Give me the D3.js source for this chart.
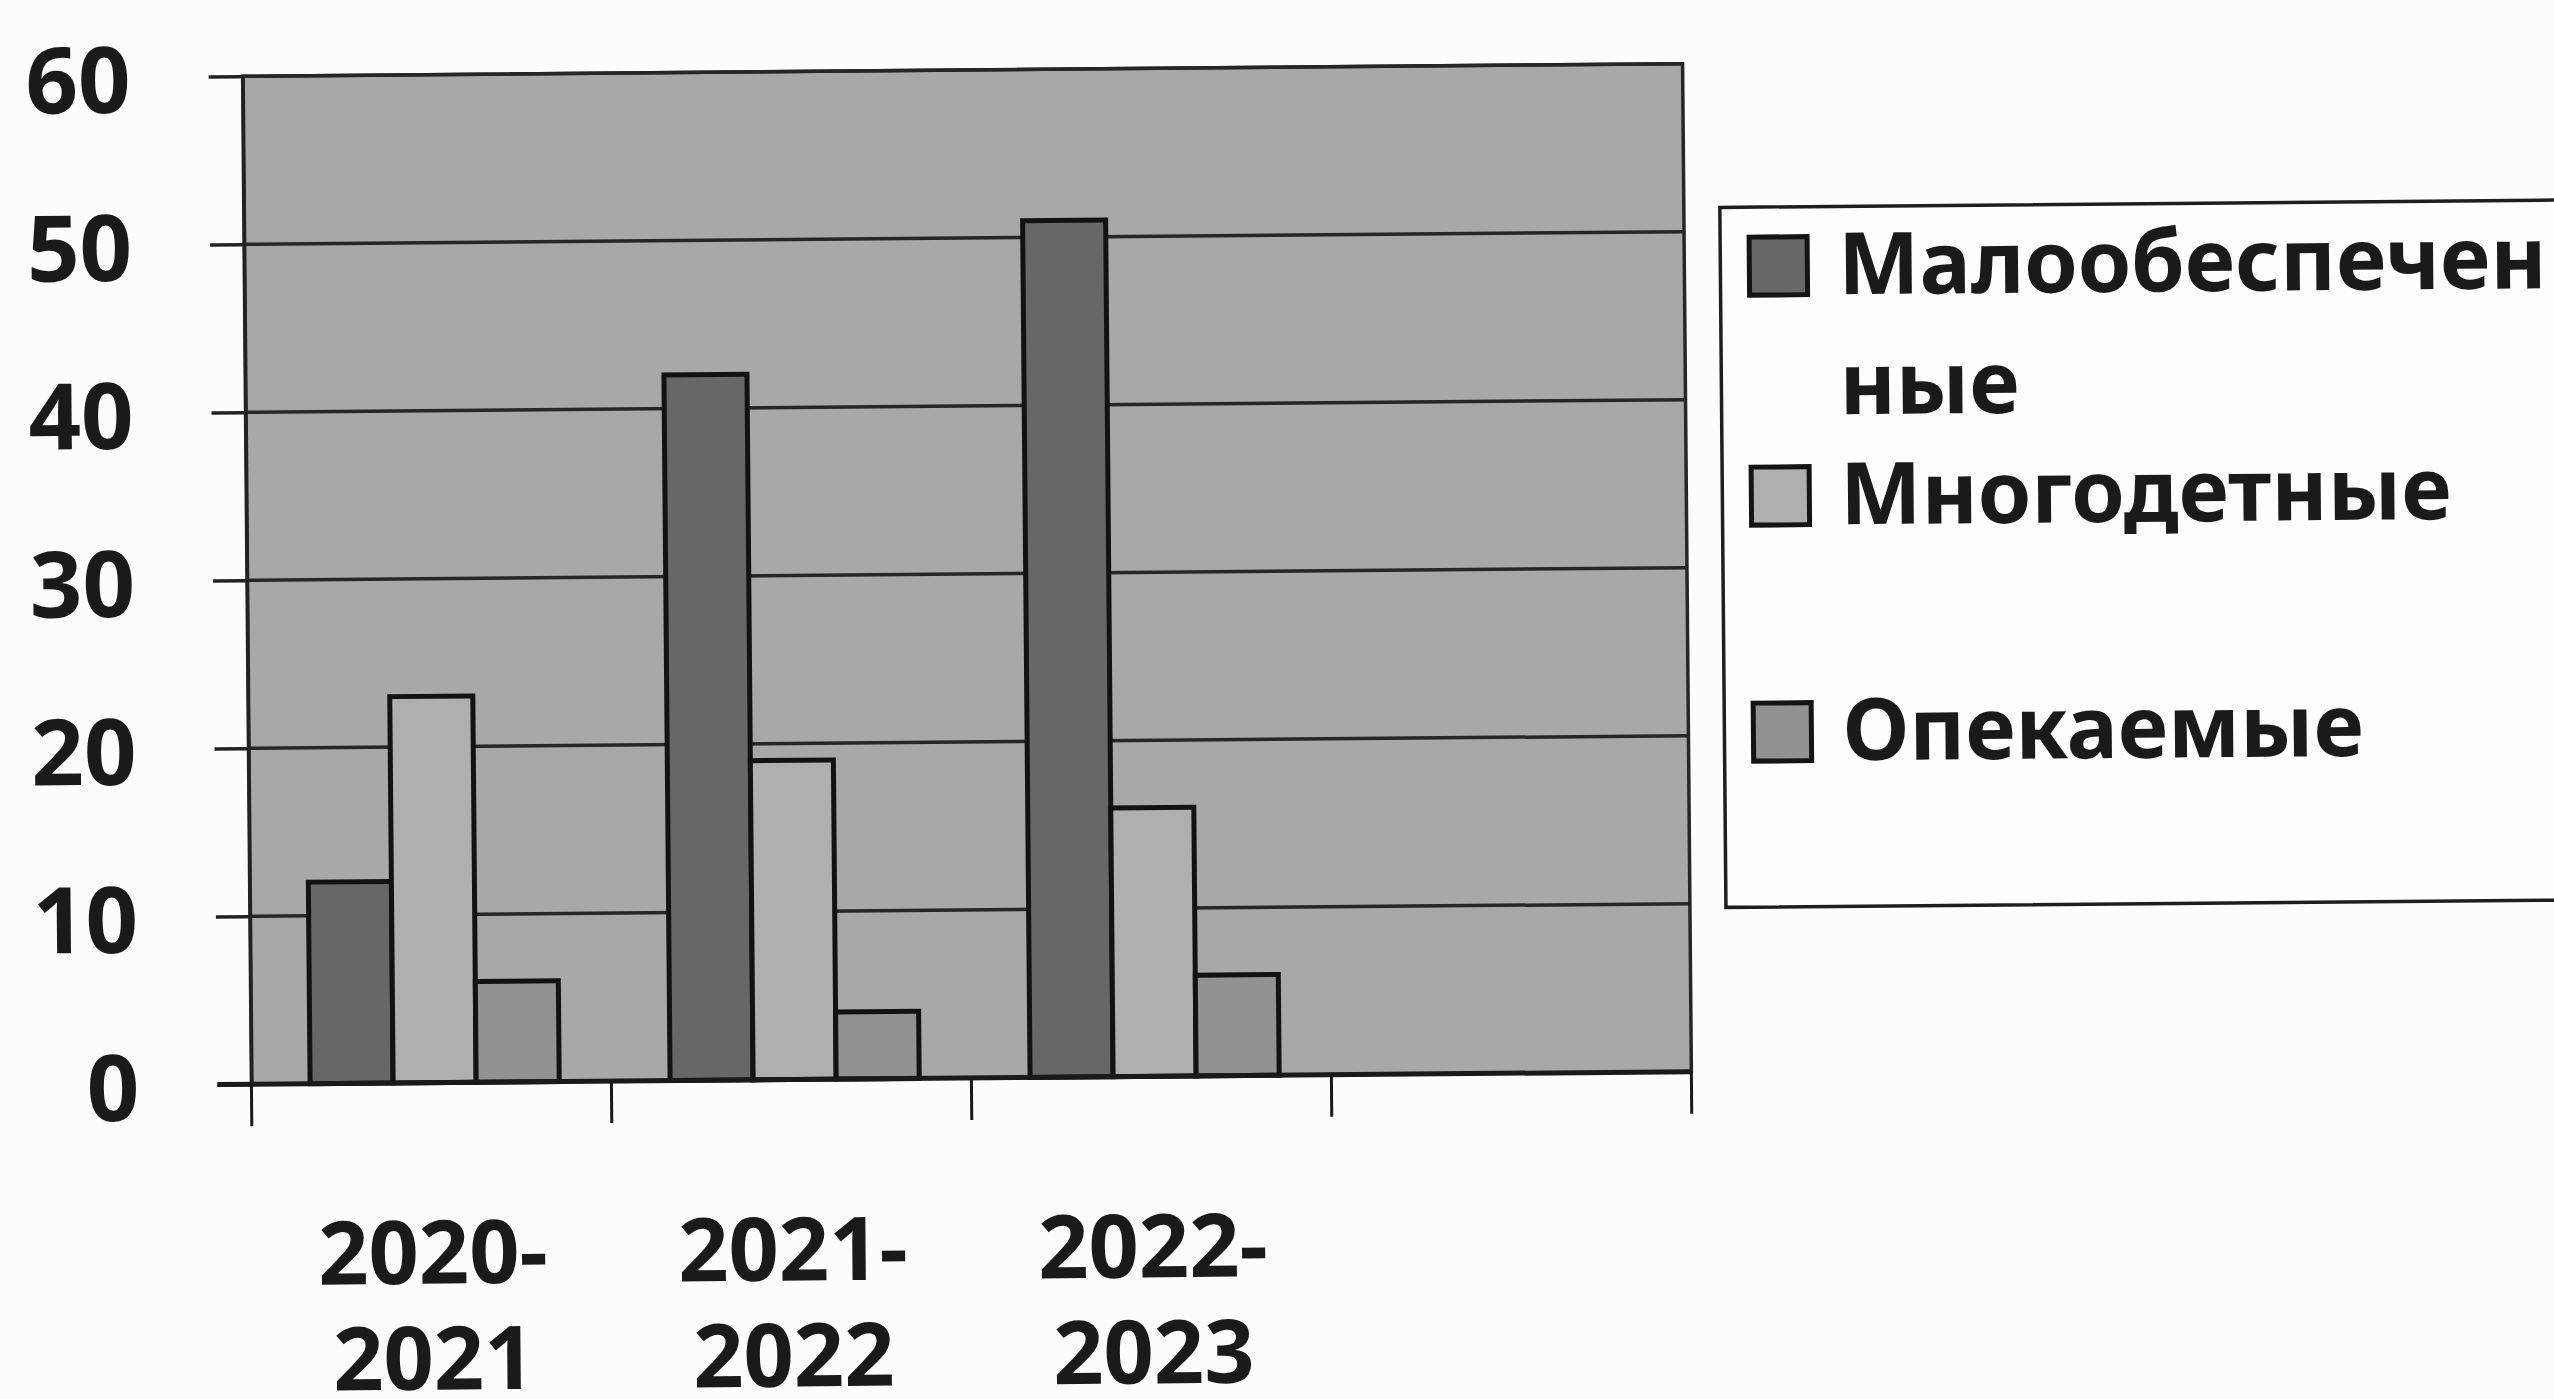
<!DOCTYPE html>
<html><head><meta charset="utf-8">
<script src="https://cdn.jsdelivr.net/npm/d3@7"></script>
<style>html,body{margin:0;padding:0;background:#fcfcfc;} svg{display:block}</style>
</head><body>
<svg id="c" width="2554" height="1399"></svg>
<script>
// ---- data ----
const categories = ["2020-2021", "2021-2022", "2022-2023", ""];
const categoryLines = [["2020-", "2021"], ["2021-", "2022"], ["2022-", "2023"], []];
const seriesNames = ["Малообеспеченные", "Многодетные", "Опекаемые"];
const legendLines = [["Малообеспечен", "ные"], ["Многодетные"], ["Опекаемые"]];
const malo  = [12, 42, 51, null];
const mnogo = [23, 19, 16, null];
const opek  = [6, 4, 6, null];
const yTicks = [0, 10, 20, 30, 40, 50, 60];

// ---- style ----
const colors = ["#676767", "#afafaf", "#929292"];
const FONT = "'Noto Sans', 'DejaVu Sans', sans-serif";
const L = 247, R = 1687, T = 70, B = 1078;

const svg = d3.select("#c");
const g = svg.append("g").attr("transform", "rotate(-0.5 965 574)");

const x = d3.scaleBand().domain(categories.map((d, i) => i)).range([L, R]).padding(0);
const inner = d3.scaleBand().domain(d3.range(seriesNames.length))
  .range([x.bandwidth() * 0.163, x.bandwidth() * 0.855]).padding(0);
const y = d3.scaleLinear().domain([0, 60]).range([B, T]);

// plot background
g.append("rect").attr("x", L).attr("y", T).attr("width", R - L).attr("height", B - T)
  .attr("fill", "#a8a8a8");

// gridlines
g.append("g").selectAll("line").data(yTicks.filter(v => v > 0)).join("line")
  .attr("x1", L).attr("x2", R).attr("y1", d => y(d)).attr("y2", d => y(d))
  .attr("stroke", "#262626").attr("stroke-width", 3.5);

// bars
const series = [malo, mnogo, opek];
series.forEach((vals, si) => {
  g.append("g").selectAll("rect")
    .data(vals.map((v, i) => ({ v, i })).filter(d => d.v != null))
    .join("rect")
    .attr("x", d => x(d.i) + inner(si))
    .attr("y", d => y(d.v))
    .attr("width", inner.bandwidth())
    .attr("height", d => y(0) - y(d.v))
    .attr("fill", colors[si])
    .attr("stroke", "#121212").attr("stroke-width", 5);
});

// plot border
g.append("rect").attr("x", L).attr("y", T).attr("width", R - L).attr("height", B - T)
  .attr("fill", "none").attr("stroke", "#262626").attr("stroke-width", 3.5);

// y axis
const yAxis = g.append("g").attr("transform", `translate(${L},0)`)
  .call(d3.axisLeft(y).tickValues(yTicks).tickSize(34).tickSizeOuter(0).tickPadding(78));
yAxis.selectAll("line").attr("stroke", "#222").attr("stroke-width", 3.5);
yAxis.select(".domain").attr("stroke", "#222").attr("stroke-width", 3.5);
yAxis.selectAll("text").attr("font-family", FONT).attr("font-weight", 700)
  .attr("font-size", 92).attr("fill", "#1a1a1a").attr("dy", "0.38em");

// zero axis line
g.append("line").attr("x1", L - 34).attr("x2", R).attr("y1", y(0)).attr("y2", y(0))
  .attr("stroke", "#1a1a1a").attr("stroke-width", 5);

// x category boundary ticks
const bounds = categories.map((d, i) => x(i)).concat([x.range()[1]]);
g.append("g").selectAll("line").data(bounds).join("line")
  .attr("x1", d => d).attr("x2", d => d).attr("y1", y(0)).attr("y2", y(0) + 42)
  .attr("stroke", "#1a1a1a").attr("stroke-width", 3);

// x labels
const xl = g.append("g").selectAll("text").data(categoryLines).join("text")
  .attr("text-anchor", "middle").attr("font-family", FONT).attr("font-weight", 700)
  .attr("font-size", 88).attr("fill", "#1a1a1a");
xl.each(function (lines, i) {
  const cx = x(i) + x.bandwidth() / 2;
  d3.select(this).selectAll("tspan").data(lines).join("tspan")
    .attr("x", cx).attr("y", (d, j) => 1279 + j * 106).text(d => d);
});

// legend
const lg = g.append("g");
lg.append("rect").attr("x", 1723).attr("y", 214).attr("width", 900).attr("height", 700)
  .attr("fill", "#fdfdfd").attr("stroke", "#1e1e1e").attr("stroke-width", 3.5);
const legendY = [302, 532, 768];
seriesNames.forEach((name, si) => {
  const by = legendY[si];
  lg.append("rect").attr("x", 1752).attr("y", by - 58).attr("width", 58).attr("height", 58)
    .attr("fill", colors[si]).attr("stroke", "#141414").attr("stroke-width", 5);
  const t = lg.append("text").attr("font-family", FONT).attr("font-weight", 700)
    .attr("font-size", 86).attr("fill", "#1a1a1a");
  t.selectAll("tspan").data(legendLines[si]).join("tspan")
    .attr("x", 1841).attr("y", (d, j) => by + j * 120).text(d => d);
});
</script>
</body></html>
